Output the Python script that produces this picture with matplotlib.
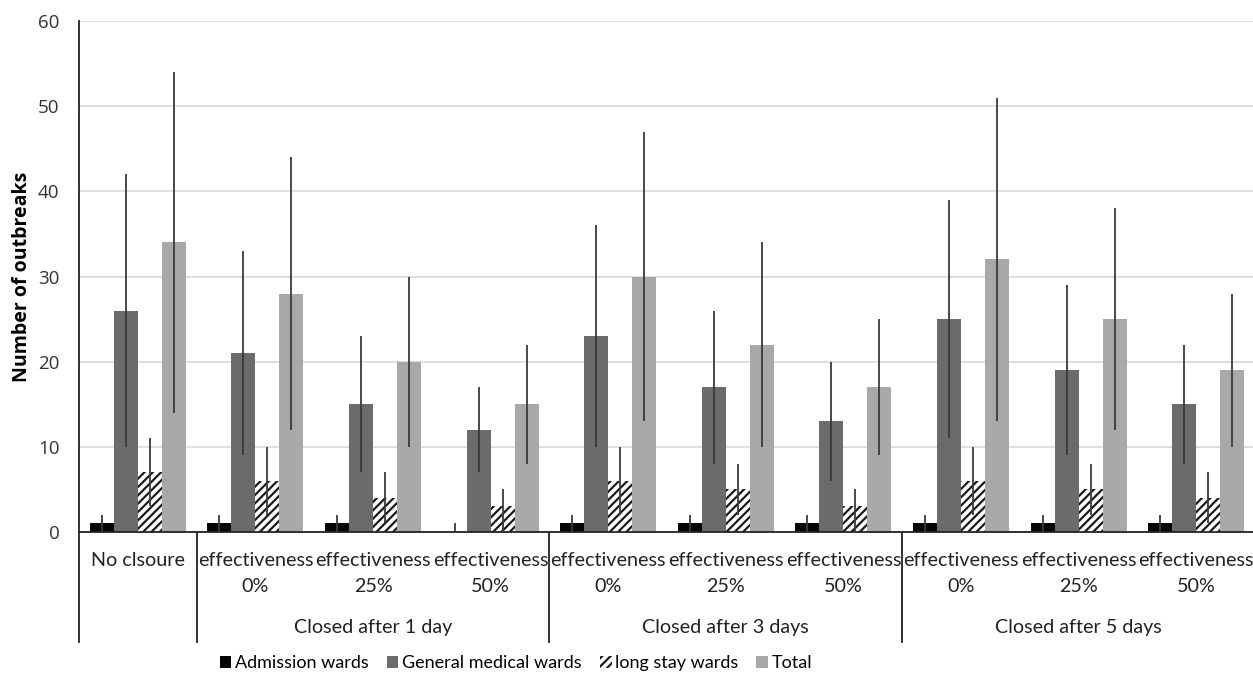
import matplotlib
matplotlib.use("Agg")
import matplotlib.pyplot as plt
from matplotlib.patches import Patch
import numpy as np

plt.rcParams['hatch.linewidth'] = 1.6

# ---- data ----
top_labels = ["No clsoure", "effectiveness\n0%", "effectiveness\n25%", "effectiveness\n50%",
              "effectiveness\n0%", "effectiveness\n25%", "effectiveness\n50%",
              "effectiveness\n0%", "effectiveness\n25%", "effectiveness\n50%"]
group_labels = ["Closed after 1 day", "Closed after 3 days", "Closed after 5 days"]
group_spans = [(1, 4), (4, 7), (7, 10)]
series_names = ["Admission wards", "General medical wards", "long stay wards", "Total"]

admission = [1, 1, 1, 0, 1, 1, 1, 1, 1, 1]
admission_lo = [0, 0, 0, 0, 0, 0, 0, 0, 0, 0]
admission_hi = [2, 2, 2, 1, 2, 2, 2, 2, 2, 2]

general = [26, 21, 15, 12, 23, 17, 13, 25, 19, 15]
general_lo = [10, 9, 7, 7, 10, 8, 6, 11, 9, 8]
general_hi = [42, 33, 23, 17, 36, 26, 20, 39, 29, 22]

longstay = [7, 6, 4, 3, 6, 5, 3, 6, 5, 4]
longstay_lo = [3, 2, 1, 0, 2, 2, 0, 2, 2, 1]
longstay_hi = [11, 10, 7, 5, 10, 8, 5, 10, 8, 7]

total = [34, 28, 20, 15, 30, 22, 17, 32, 25, 19]
total_lo = [14, 12, 10, 8, 13, 10, 9, 13, 12, 10]
total_hi = [54, 44, 30, 22, 47, 34, 25, 51, 38, 28]

# ---- figure ----
W, H = 1253, 676
fig = plt.figure(figsize=(W / 100, H / 100), dpi=100)
left_px, right_px, top_px, bot_px = 79, 1253, 21, 532
ax = fig.add_axes([left_px / W, 1 - bot_px / H, (right_px - left_px) / W, (bot_px - top_px) / H])

n = len(top_labels)
centers = np.arange(n) + 0.5
bw = 0.204
offsets = np.array([-1.5, -0.5, 0.5, 1.5]) * bw

series = [
    (admission, admission_lo, admission_hi, dict(color="#050505")),
    (general, general_lo, general_hi, dict(color="#6b6b6b")),
    (longstay, longstay_lo, longstay_hi, dict(facecolor="white", edgecolor="#1a1a1a", hatch="////", linewidth=0)),
    (total, total_lo, total_hi, dict(color="#a8a8a8")),
]

handles = []
for k, (vals, lo, hi, style) in enumerate(series):
    x = centers + offsets[k]
    ax.bar(x, vals, width=bw, zorder=2, **style)
    vals_a = np.array(vals, float)
    yerr = np.vstack([vals_a - np.array(lo), np.array(hi) - vals_a])
    ax.errorbar(x, vals_a, yerr=yerr, fmt="none", ecolor="#3a3a3a", elinewidth=1.3, capsize=0, zorder=3)
    handles.append(Patch(**{kk: vv for kk, vv in style.items() if kk != "linewidth"}, linewidth=0, label=series_names[k]))

ax.set_xlim(0, (right_px - left_px) / 117.6)
ax.set_ylim(0, 60)
ax.set_yticks(range(0, 61, 10))
ax.yaxis.grid(True, color="#d9d9d9", linewidth=1.2, zorder=0)
ax.set_axisbelow(True)
ax.set_xticks([])
for s in ["top", "right"]:
    ax.spines[s].set_visible(False)
ax.spines["left"].set_color("#222222")
ax.spines["bottom"].set_color("#222222")
ax.spines["left"].set_linewidth(1.3)
ax.spines["bottom"].set_linewidth(1.3)
ax.tick_params(axis="y", length=0, pad=14, labelsize=13.5, labelcolor="#333333")
for t in ax.get_yticklabels():
    t.set_fontfamily("Open Sans")

ax.set_ylabel("Number of outbreaks", fontsize=14, fontweight="bold", family="Open Sans", labelpad=4)

# category labels
axh = bot_px - top_px
trans = ax.get_xaxis_transform()
lab_font = dict(family=["Lato", "DejaVu Sans"], fontsize=14.2, color="#222222")
for i, lab in enumerate(top_labels):
    if "\n" in lab:
        a, b = lab.split("\n")
        ax.text(centers[i], -(560 - bot_px) / axh, a, transform=trans, ha="center", va="center", clip_on=False, **lab_font)
        ax.text(centers[i], -(587 - bot_px) / axh, b, transform=trans, ha="center", va="center", clip_on=False, **lab_font)
    else:
        ax.text(centers[i], -(560 - bot_px) / axh, lab, transform=trans, ha="center", va="center", clip_on=False, **lab_font)
for (s, e), g in zip(group_spans, group_labels):
    ax.text((s + e) / 2, -(627 - bot_px) / axh, g, transform=trans, ha="center", va="center", clip_on=False, **lab_font)

line_bottom = -(642 - bot_px) / axh
for xb in [0, 1, 4, 7]:
    ax.plot([xb, xb], [0, line_bottom], transform=trans, color="#222222", linewidth=1.3, clip_on=False)

fig.legend(handles=handles, loc="center", bbox_to_anchor=(516 / W, 1 - 663 / H), ncol=4, frameon=False,
           prop=dict(family="Lato", size=13), handlelength=0.65, handleheight=0.65,
           handletextpad=0.2, columnspacing=1.0)

fig.savefig("out.png", dpi=100, facecolor="white")
